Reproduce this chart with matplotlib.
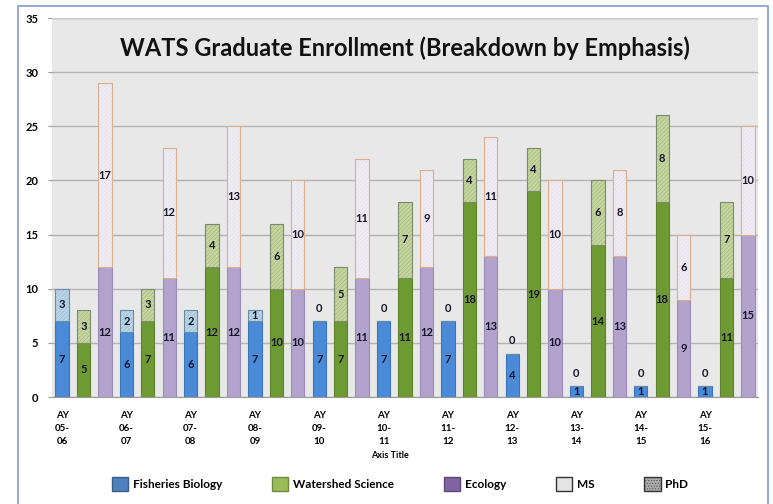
import numpy as np
import matplotlib
matplotlib.use("Agg")
import matplotlib.pyplot as plt
from matplotlib.patches import Patch, Rectangle

plt.rcParams['font.family'] = ['Lato', 'DejaVu Sans']
plt.rcParams['hatch.linewidth'] = 0.3

years = ["AY\n05-\n06", "AY\n06-\n07", "AY\n07-\n08", "AY\n08-\n09", "AY\n09-\n10",
         "AY\n10-\n11", "AY\n11-\n12", "AY\n12-\n13", "AY\n13-\n14", "AY\n14-\n15",
         "AY\n15-\n16"]
emphases = ["Fisheries Biology", "Watershed Science", "Ecology"]

fish_ms = [7, 6, 6, 7, 7, 7, 7, 4, 1, 1, 1]
fish_phd = [3, 2, 2, 1, 0, 0, 0, 0, 0, 0, 0]
water_ms = [5, 7, 12, 10, 7, 11, 18, 19, 14, 18, 11]
water_phd = [3, 3, 4, 6, 5, 7, 4, 4, 6, 8, 7]
eco_ms = [12, 11, 12, 10, 11, 12, 13, 10, 13, 9, 15]
eco_phd = [17, 12, 13, 10, 11, 9, 11, 10, 8, 6, 10]

# colours: (MS face, MS edge, PhD face, PhD hatch, PhD edge)
styles = [
    ("#4a8ad6", "#3c74b8", "#b8d4e6", "#8fb0c8", "#6a8aa8"),
    ("#6e9a34", "#5d8229", "#c4d59e", "#9aaa78", "#7a8a6a"),
    ("#b3a3cc", "#9a8ab8", "#efebf2", "#e0dae6", "#dcae90"),
]
series = [(fish_ms, fish_phd), (water_ms, water_phd), (eco_ms, eco_phd)]

fig = plt.figure(figsize=(7.73, 5.04), dpi=100)
fig.patches.append(Rectangle((18 / 773, -0.02), 750 / 773, 1 - 6 / 504 + 0.02,
                             transform=fig.transFigure, fill=False,
                             edgecolor="#7e9ccc", linewidth=1.2))
ax = fig.add_axes([52 / 773, 1 - 397 / 504, 706 / 773, 379 / 504])
ax.set_facecolor("#e8e8e8")

n = len(years)
w = 0.62
for k, ((ms, phd), st) in enumerate(zip(series, styles)):
    x = np.arange(n) * 3 + k
    ax.bar(x, ms, width=w, color=st[0], edgecolor=st[1], linewidth=0.8, zorder=3)
    ax.bar(x, phd, bottom=ms, width=w, color=st[2], edgecolor=st[3],
           hatch="////////", linewidth=0, zorder=3)
    ax.bar(x, phd, bottom=ms, width=w, fill=False, edgecolor=st[4],
           linewidth=0.8, zorder=4)
    for xi, m, p in zip(x, ms, phd):
        ax.text(xi, m / 2, str(m), ha="center", va="center", fontsize=8,
                fontweight="bold", color="#15152a", zorder=5)
        if p > 0:
            ax.text(xi, m + p / 2, str(p), ha="center", va="center", fontsize=8,
                    fontweight="bold", color="#15152a", zorder=5)
        else:
            ax.text(xi, m + 1.2, str(p), ha="center", va="center", fontsize=8,
                    fontweight="bold", color="#15152a", zorder=5)

ax.set_xlim(-0.47, 3 * n - 1 + 0.47)
ax.set_ylim(0, 35)
ax.set_yticks(range(0, 36, 5))
ax.yaxis.grid(True, color="#b4b4b4", linewidth=1.0, zorder=0)
ax.set_axisbelow(True)
ax.set_xticks(np.arange(n) * 3)
ax.set_xticklabels(years, fontsize=7, fontweight="bold", linespacing=1.55)
ax.tick_params(axis="x", length=0, pad=10)
ax.tick_params(axis="y", length=3, color="#999999", labelsize=8, pad=7)
for lbl in ax.get_yticklabels():
    lbl.set_fontweight("bold")
for side in ["top", "right", "left"]:
    ax.spines[side].set_visible(False)
ax.spines["bottom"].set_color("#999999")
ax.axhline(35, color="#c8c8c8", linewidth=1.0, zorder=1)

ax.text(0.5, 0.92, "WATS Graduate Enrollment (Breakdown by Emphasis)",
        transform=ax.transAxes, ha="center", va="center",
        fontsize=17, fontweight="bold", color="#111111")

fig.text(390 / 773, 1 - 456 / 504, "Axis Title", ha="center", va="center",
         fontsize=6.5, fontweight="bold")

handles = [
    Patch(facecolor="#4f81bd", edgecolor="#385d8a", label="Fisheries Biology"),
    Patch(facecolor="#9bbb59", edgecolor="#71893f", label="Watershed Science"),
    Patch(facecolor="#8064a2", edgecolor="#5c4776", label="Ecology"),
    Patch(facecolor="#e4e4e4", edgecolor="#333333", label="MS"),
    Patch(facecolor="#aaaaaa", edgecolor="#333333", hatch="......", label="PhD"),
]
leg = fig.legend(handles=handles, loc="center", bbox_to_anchor=(400 / 773, 1 - 484 / 504),
                 ncol=5, frameon=False, fontsize=8.5, handlelength=1.4,
                 handleheight=1.4, handletextpad=0.4, columnspacing=4.2)
for t in leg.get_texts():
    t.set_fontweight("bold")

fig.savefig("out.png", dpi=100)
